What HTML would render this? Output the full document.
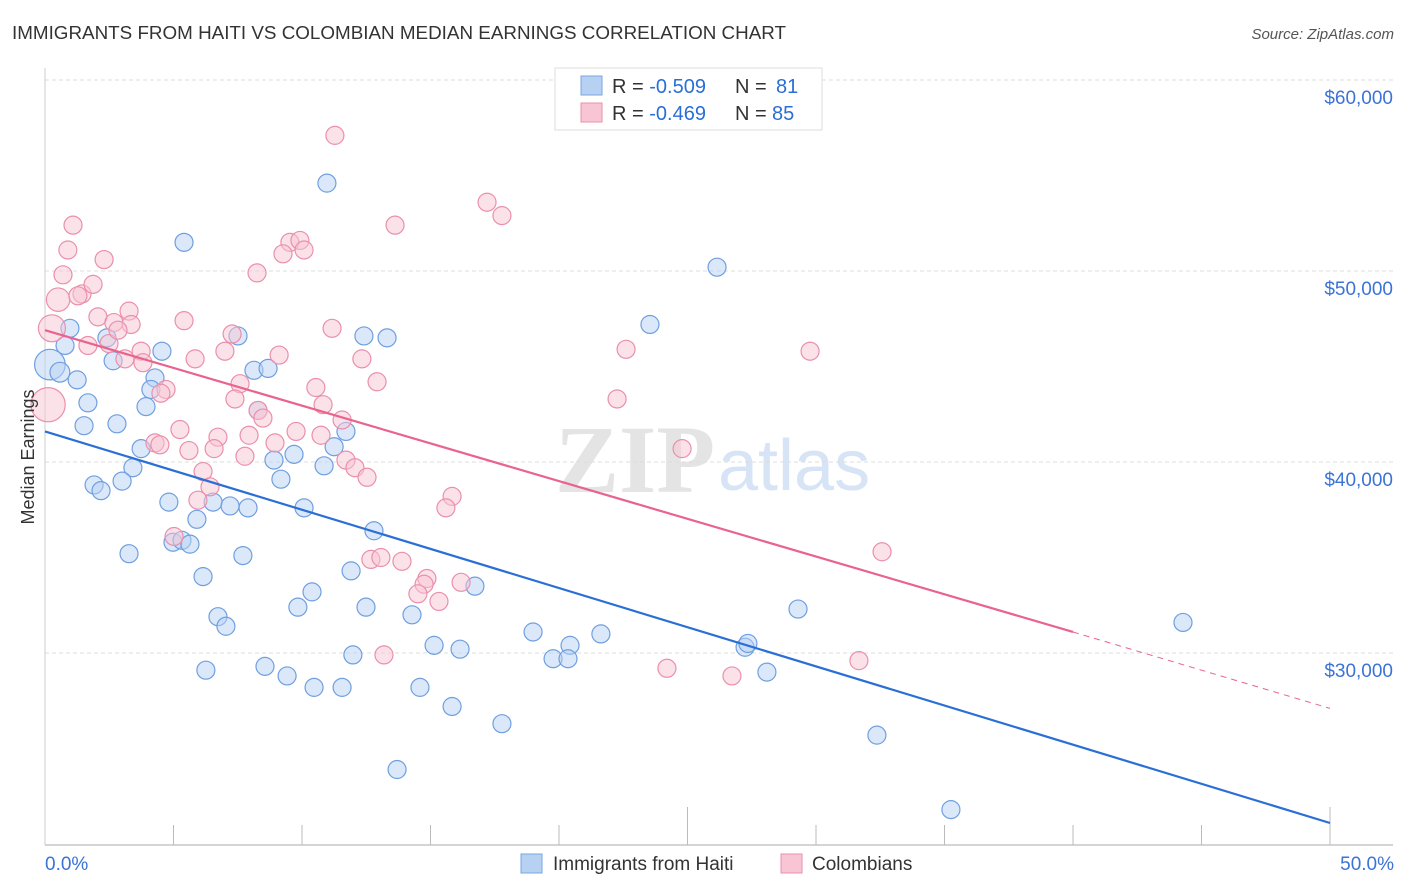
<!DOCTYPE html>
<html><head><meta charset="utf-8"><style>
body{margin:0;background:#fff;font-family:"Liberation Sans",sans-serif;}
</style></head><body>
<svg id="chart" width="1406" height="892" viewBox="0 0 1406 892" xmlns="http://www.w3.org/2000/svg" style="display:block">
<text x="12" y="39" font-size="18" fill="#333" textLength="774" lengthAdjust="spacingAndGlyphs">IMMIGRANTS FROM HAITI VS COLOMBIAN MEDIAN EARNINGS CORRELATION CHART</text>
<text x="1394" y="39" font-size="15" fill="#555" text-anchor="end" font-style="italic">Source: ZipAtlas.com</text>
<g>
<text x="555" y="492" font-size="96" fill="#e4e4e4" font-family="Liberation Serif,serif" font-weight="bold">ZIP</text>
<text x="718" y="490" font-size="72" fill="#d6e4f6">atlas</text>
</g>
<g id="grid"></g>
<g id="axes"></g>
<g id="lines"></g>
<g id="points"></g>
<text transform="translate(34,457) rotate(-90)" font-size="18" fill="#333" text-anchor="middle">Median Earnings</text>
<g>
<rect x="555" y="68" width="267" height="62" fill="#fff" stroke="#ddd"/>
<rect x="581" y="76" width="21" height="19" fill="#b7d1f3" stroke="#7aa5e0"/>
<rect x="581" y="103" width="21" height="19" fill="#f8c5d4" stroke="#eb8fac"/>
<text x="612" y="93" font-size="20" fill="#333">R = <tspan fill="#2a6fd6">-0.509</tspan><tspan x="735">N = </tspan><tspan x="776" fill="#2a6fd6">81</tspan></text>
<text x="612" y="120" font-size="20" fill="#333">R = <tspan fill="#2a6fd6">-0.469</tspan><tspan x="735">N = </tspan><tspan x="772" fill="#2a6fd6">85</tspan></text>
</g>
<g>
<rect x="521" y="854" width="21" height="19" fill="#b7d1f3" stroke="#7aa5e0"/>
<text x="553" y="870" font-size="19" fill="#333">Immigrants from Haiti</text>
<rect x="781" y="854" width="21" height="19" fill="#f8c5d4" stroke="#eb8fac"/>
<text x="812" y="870" font-size="19" fill="#333">Colombians</text>
</g>
</svg>
<script>
const yTicks=[30000,40000,50000,60000];
const yTickLabels=["$30,000","$40,000","$50,000","$60,000"];
const xTickLabels=["0.0%","50.0%"];
const haitiX=[10.97,5.41,26.15,23.54,0.97,0.78,2.41,4.55,7.51,12.41,13.31,2.65,0.19,0.58,1.25,4.28,4.12,8.13,8.68,1.67,3.93,8.29,1.52,2.80,11.71,3.74,3.42,1.91,2.18,3.0,8.91,9.69,9.18,10.86,11.25,4.82,6.54,7.2,7.9,10.08,5.91,12.8,3.27,4.98,5.33,5.64,7.7,6.15,11.91,10.39,9.84,12.49,16.73,6.73,7.04,14.28,18.99,21.63,20.43,15.14,16.15,11.98,19.77,20.35,27.24,27.35,29.3,44.28,28.09,6.26,8.56,9.42,10.47,11.56,14.59,15.84,17.78,13.7,32.37,35.25];
const haitiY=[54.6,51.5,50.2,47.2,47.0,46.1,46.5,45.8,46.6,46.6,46.5,45.3,45.1,44.7,44.3,44.4,43.8,44.8,44.9,43.1,42.9,42.7,41.9,42.0,41.6,40.7,39.7,38.8,38.5,39.0,40.1,40.4,39.1,39.8,40.8,37.9,37.9,37.7,37.6,37.6,37.0,36.4,35.2,35.8,35.9,35.7,35.1,34.0,34.3,33.2,32.4,32.4,33.5,31.9,31.4,32.0,31.1,31.0,30.4,30.4,30.2,29.9,29.7,29.7,30.3,30.5,32.3,31.6,29.0,29.1,29.3,28.8,28.2,28.2,28.2,27.2,26.3,23.9,25.7,21.8];
const haitiSize=[1,1,1,1,1,1,1,1,1,1,1,1,1.7,1.1,1,1,1,1,1,1,1,1,1,1,1,1,1,1,1,1,1,1,1,1,1,1,1,1,1,1,1,1,1,1,1,1,1,1,1,1,1,1,1,1,1,1,1,1,1,1,1,1,1,1,1,1,1,1,1,1,1,1,1,1,1,1,1,1,1,1];
const colX=[11.28,17.2,17.78,13.62,1.09,0.89,2.3,0.7,8.25,9.53,9.92,9.26,10.08,0.51,1.44,1.87,1.28,0.27,2.06,2.68,3.27,3.35,2.49,1.67,5.41,2.84,3.11,3.74,3.81,5.84,7.0,7.28,9.11,11.17,12.33,4.71,4.51,7.59,12.92,10.54,10.82,7.39,8.29,8.48,11.56,5.25,0.12,4.28,4.47,5.6,6.73,6.58,7.78,7.94,8.95,9.77,10.74,11.71,12.06,12.53,6.15,6.42,5.95,5.02,15.84,15.6,12.68,13.07,13.89,14.86,14.75,14.51,15.33,16.19,22.61,22.26,24.79,29.77,32.57,13.19,24.2,26.73,31.67];
const colY=[57.1,53.6,52.9,52.4,52.4,51.1,50.6,49.8,49.9,51.5,51.6,50.9,51.1,48.5,48.8,49.3,48.7,47.0,47.6,47.3,47.9,47.2,46.2,46.1,47.4,46.9,45.4,45.8,45.2,45.4,45.8,46.7,45.6,47.0,45.4,43.8,43.6,44.1,44.2,43.9,43.0,43.3,42.7,42.3,42.2,41.7,43.0,41.0,40.9,40.6,41.3,40.7,40.3,41.4,41.0,41.6,41.4,40.1,39.7,39.2,39.5,38.7,38.0,36.1,38.2,37.6,34.9,35.0,34.8,33.9,33.6,33.1,32.7,33.7,45.9,43.3,40.7,45.8,35.3,29.9,29.2,28.8,29.6];
const colSize=[1,1,1,1,1,1,1,1,1,1,1,1,1,1.3,1,1,1,1.5,1,1,1,1,1,1,1,1,1,1,1,1,1,1,1,1,1,1,1,1,1,1,1,1,1,1,1,1,1.9,1,1,1,1,1,1,1,1,1,1,1,1,1,1,1,1,1,1,1,1,1,1,1,1,1,1,1,1,1,1,1,1,1,1,1,1];
const haitiTrend=[[0,41.6],[50,21.1]];
const colTrendSolid=[[0,46.9],[40,31.1]];
const colTrendDash=[[40,31.1],[50,27.1]];

const NS="http://www.w3.org/2000/svg";
const xs=p=>45+p*(1285/50);
const ys=v=>80+(60000-v)/10000*191;
const ysk=k=>ys(k*1000);
function mk(tag,attrs,parent){const e=document.createElementNS(NS,tag);for(const k in attrs)e.setAttribute(k,attrs[k]);parent.appendChild(e);return e;}
const grid=document.getElementById('grid'),axes=document.getElementById('axes'),lines=document.getElementById('lines'),pts=document.getElementById('points');
yTicks.forEach((t,i)=>{
 const l=mk('line',{x1:45,x2:1393,y1:ys(t),y2:ys(t),stroke:'#ddd','stroke-dasharray':'4,3'},grid);
 
 
 const tx=mk('text',{x:1393,y:ys(t)+24,'text-anchor':'end','font-size':19,fill:'#3b73d6'},axes);
 tx.textContent=yTickLabels[i];
 
 
});
const xa=mk('line',{x1:45,x2:1393,y1:845,y2:845,stroke:'#aaa'},axes);


const ya=mk('line',{x1:45,x2:45,y1:68,y2:845,stroke:'#ccc'},axes);


for(let i=1;i<=10;i++){
 const t=mk('line',{x1:xs(i*5),x2:xs(i*5),y1:845,y2:(i===5||i===10)?807:825,stroke:'#bbb'},axes);
 
 
}
[[0,'start',45],[50,'end',1394]].forEach((d,i)=>{
 const tx=mk('text',{x:d[2],y:870,'text-anchor':d[1],'font-size':19,fill:'#3b73d6'},axes);
 tx.textContent=xTickLabels[i];
 
 
});
function drawPts(X,Y,S,fill,stroke,name){
 X.forEach((x,i)=>{
  const c=mk('circle',{cx:xs(x),cy:ysk(Y[i]),r:9*S[i],fill:fill,'fill-opacity':0.5,stroke:stroke,'stroke-width':1.2},pts);
  
  
 });
}
drawPts(haitiX,haitiY,haitiSize,'#b7d1f3','#6f9fe0','haiti-point');
drawPts(colX,colY,colSize,'#f8c5d4','#eb8fac','colombian-point');
function ln(seg,col,w,dash,name){
 const l=mk('line',{x1:xs(seg[0][0]),y1:ysk(seg[0][1]),x2:xs(seg[1][0]),y2:ysk(seg[1][1]),stroke:col,'stroke-width':w},lines);
 if(dash)l.setAttribute('stroke-dasharray',dash);
 
 
}
ln(haitiTrend,'#2a6fd6',2.2,null,'haiti-trend-line');
ln(colTrendSolid,'#e8648f',2.2,null,'colombian-trend-line');
ln(colTrendDash,'#e8648f',1,'6,5','colombian-trend-extension');
lines.parentNode.appendChild(lines);
</script>
</body></html>
